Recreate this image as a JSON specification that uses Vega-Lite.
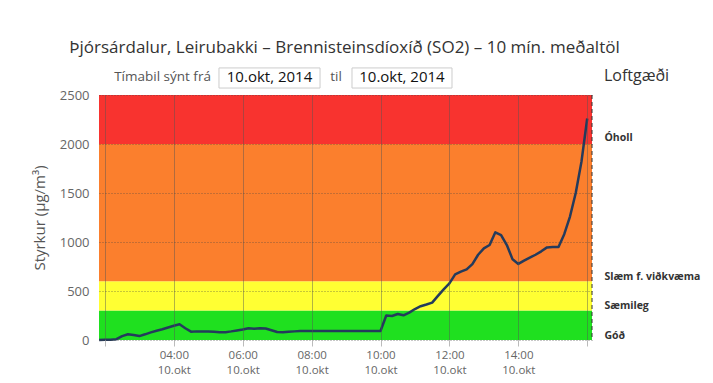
{
  "$schema": "https://vega.github.io/schema/vega-lite/v6.json",
  "width": 493,
  "height": 245,
  "autosize": "none",
  "padding": {"left": 99, "top": 95, "right": 121, "bottom": 43},
  "background": "white",
  "config": {"font": "Open Sans", "view": {"stroke": null}},
  "title": {
    "text": "Þjórsárdalur, Leirubakki – Brennisteinsdíoxíð (SO2) – 10 mín. meðaltöl",
    "anchor": "middle",
    "frame": "group",
    "fontSize": 17,
    "fontWeight": "normal",
    "color": "#333333",
    "dx": -1,
    "offset": 10
  },
  "datasets": {
    "bands": [
      {"level": "Góð", "lo": 0, "hi": 300},
      {"level": "Sæmileg", "lo": 300, "hi": 600},
      {"level": "Slæm f. viðkvæma", "lo": 600, "hi": 2000},
      {"level": "Óholl", "lo": 2000, "hi": 2500}
    ],
    "edge": [
      {"t": "2014-10-10T16:08:20Z"}
    ],
    "boxes": [
      {"t0": "2014-10-10T05:18:40Z", "t1": "2014-10-10T08:14:40Z", "y0": 2571, "y1": 2776},
      {"t0": "2014-10-10T09:10:20Z", "t1": "2014-10-10T12:04:30Z", "y0": 2571, "y1": 2776}
    ],
    "header": [
      {"t": "2014-10-10T03:40:20Z", "y": 2684, "label": "Tímabil sýnt frá", "kind": "label"},
      {"t": "2014-10-10T06:46:40Z", "y": 2684, "label": "10.okt, 2014", "kind": "box"},
      {"t": "2014-10-10T08:42:30Z", "y": 2684, "label": "til", "kind": "label"},
      {"t": "2014-10-10T10:37:20Z", "y": 2684, "label": "10.okt, 2014", "kind": "box"}
    ],
    "legendTitle": [
      {"t": "2014-10-10T17:25:50Z", "y": 2694, "label": "Loftgæði"}
    ],
    "so2": [
      {"t": "2014-10-10T01:50:00Z", "v": 0},
      {"t": "2014-10-10T02:00:00Z", "v": 2},
      {"t": "2014-10-10T02:10:00Z", "v": 3},
      {"t": "2014-10-10T02:20:00Z", "v": 8},
      {"t": "2014-10-10T02:30:00Z", "v": 40},
      {"t": "2014-10-10T02:40:00Z", "v": 58},
      {"t": "2014-10-10T02:50:00Z", "v": 50},
      {"t": "2014-10-10T03:00:00Z", "v": 40},
      {"t": "2014-10-10T03:10:00Z", "v": 58},
      {"t": "2014-10-10T03:20:00Z", "v": 78},
      {"t": "2014-10-10T03:30:00Z", "v": 95},
      {"t": "2014-10-10T03:40:00Z", "v": 110},
      {"t": "2014-10-10T03:50:00Z", "v": 128},
      {"t": "2014-10-10T04:00:00Z", "v": 145},
      {"t": "2014-10-10T04:10:00Z", "v": 160},
      {"t": "2014-10-10T04:20:00Z", "v": 120},
      {"t": "2014-10-10T04:30:00Z", "v": 85},
      {"t": "2014-10-10T04:40:00Z", "v": 88},
      {"t": "2014-10-10T04:50:00Z", "v": 88},
      {"t": "2014-10-10T05:00:00Z", "v": 86},
      {"t": "2014-10-10T05:10:00Z", "v": 85},
      {"t": "2014-10-10T05:20:00Z", "v": 80},
      {"t": "2014-10-10T05:30:00Z", "v": 80},
      {"t": "2014-10-10T05:40:00Z", "v": 88},
      {"t": "2014-10-10T05:50:00Z", "v": 98},
      {"t": "2014-10-10T06:00:00Z", "v": 108},
      {"t": "2014-10-10T06:10:00Z", "v": 120},
      {"t": "2014-10-10T06:20:00Z", "v": 115},
      {"t": "2014-10-10T06:30:00Z", "v": 120},
      {"t": "2014-10-10T06:40:00Z", "v": 118},
      {"t": "2014-10-10T06:50:00Z", "v": 100},
      {"t": "2014-10-10T07:00:00Z", "v": 82},
      {"t": "2014-10-10T07:10:00Z", "v": 78},
      {"t": "2014-10-10T07:20:00Z", "v": 85},
      {"t": "2014-10-10T07:30:00Z", "v": 88},
      {"t": "2014-10-10T07:40:00Z", "v": 92},
      {"t": "2014-10-10T08:00:00Z", "v": 92},
      {"t": "2014-10-10T08:30:00Z", "v": 92},
      {"t": "2014-10-10T09:00:00Z", "v": 92},
      {"t": "2014-10-10T09:30:00Z", "v": 92},
      {"t": "2014-10-10T10:00:00Z", "v": 92},
      {"t": "2014-10-10T10:10:00Z", "v": 250},
      {"t": "2014-10-10T10:20:00Z", "v": 245},
      {"t": "2014-10-10T10:30:00Z", "v": 265},
      {"t": "2014-10-10T10:40:00Z", "v": 252},
      {"t": "2014-10-10T10:50:00Z", "v": 279},
      {"t": "2014-10-10T11:00:00Z", "v": 316},
      {"t": "2014-10-10T11:10:00Z", "v": 345},
      {"t": "2014-10-10T11:20:00Z", "v": 362},
      {"t": "2014-10-10T11:30:00Z", "v": 381},
      {"t": "2014-10-10T11:40:00Z", "v": 450},
      {"t": "2014-10-10T11:50:00Z", "v": 517},
      {"t": "2014-10-10T12:00:00Z", "v": 578},
      {"t": "2014-10-10T12:10:00Z", "v": 670},
      {"t": "2014-10-10T12:20:00Z", "v": 697},
      {"t": "2014-10-10T12:30:00Z", "v": 720},
      {"t": "2014-10-10T12:40:00Z", "v": 775},
      {"t": "2014-10-10T12:50:00Z", "v": 870},
      {"t": "2014-10-10T13:00:00Z", "v": 935},
      {"t": "2014-10-10T13:10:00Z", "v": 969},
      {"t": "2014-10-10T13:20:00Z", "v": 1099},
      {"t": "2014-10-10T13:30:00Z", "v": 1071},
      {"t": "2014-10-10T13:40:00Z", "v": 969},
      {"t": "2014-10-10T13:50:00Z", "v": 823},
      {"t": "2014-10-10T14:00:00Z", "v": 776},
      {"t": "2014-10-10T14:10:00Z", "v": 810},
      {"t": "2014-10-10T14:20:00Z", "v": 840},
      {"t": "2014-10-10T14:30:00Z", "v": 870},
      {"t": "2014-10-10T14:40:00Z", "v": 905},
      {"t": "2014-10-10T14:50:00Z", "v": 945},
      {"t": "2014-10-10T15:00:00Z", "v": 948},
      {"t": "2014-10-10T15:10:00Z", "v": 950},
      {"t": "2014-10-10T15:20:00Z", "v": 1080},
      {"t": "2014-10-10T15:30:00Z", "v": 1260},
      {"t": "2014-10-10T15:40:00Z", "v": 1500},
      {"t": "2014-10-10T15:50:00Z", "v": 1820},
      {"t": "2014-10-10T16:00:00Z", "v": 2260}
    ]
  },
  "layer": [
    {
      "data": {"name": "bands"},
      "mark": {"type": "rect"},
      "encoding": {
        "y": {
          "field": "lo", "type": "quantitative",
          "scale": {"domain": [0, 2500], "nice": false, "zero": true},
          "axis": {
            "orient": "right",
            "title": null,
            "values": [50, 350, 650, 2070],
            "labelExpr": "datum.value == 50 ? 'Góð' : datum.value == 350 ? 'Sæmileg' : datum.value == 650 ? 'Slæm f. viðkvæma' : 'Óholl'",
            "labelFontWeight": "bold",
            "labelFontSize": 10.5,
            "labelColor": "#333333",
            "labelPadding": 12,
            "ticks": false,
            "domain": false,
            "grid": false
          }
        },
        "y2": {"field": "hi"},
        "color": {
          "field": "level", "type": "nominal",
          "scale": {"domain": ["Góð", "Sæmileg", "Slæm f. viðkvæma", "Óholl"], "range": ["#1fe01f", "#ffff33", "#fb7f2d", "#f8332f"]},
          "legend": null
        }
      }
    },
    {
      "data": {"name": "so2"},
      "mark": {"type": "line", "color": "#243b5c", "strokeWidth": 2.5, "strokeJoin": "round"},
      "encoding": {
        "x": {
          "field": "t", "type": "temporal", "title": null,
          "scale": {"type": "utc", "domain": [
            {"year": 2014, "month": 10, "date": 10, "hours": 1, "minutes": 49, "seconds": 42, "utc": true},
            {"year": 2014, "month": 10, "date": 10, "hours": 16, "minutes": 8, "seconds": 20, "utc": true}
          ]},
          "axis": {
            "zindex": 1,
            "values": [
              {"year": 2014, "month": 10, "date": 10, "hours": 2, "utc": true},
              {"year": 2014, "month": 10, "date": 10, "hours": 3, "utc": true},
              {"year": 2014, "month": 10, "date": 10, "hours": 4, "utc": true},
              {"year": 2014, "month": 10, "date": 10, "hours": 5, "utc": true},
              {"year": 2014, "month": 10, "date": 10, "hours": 6, "utc": true},
              {"year": 2014, "month": 10, "date": 10, "hours": 7, "utc": true},
              {"year": 2014, "month": 10, "date": 10, "hours": 8, "utc": true},
              {"year": 2014, "month": 10, "date": 10, "hours": 9, "utc": true},
              {"year": 2014, "month": 10, "date": 10, "hours": 10, "utc": true},
              {"year": 2014, "month": 10, "date": 10, "hours": 11, "utc": true},
              {"year": 2014, "month": 10, "date": 10, "hours": 12, "utc": true},
              {"year": 2014, "month": 10, "date": 10, "hours": 13, "utc": true},
              {"year": 2014, "month": 10, "date": 10, "hours": 14, "utc": true},
              {"year": 2014, "month": 10, "date": 10, "hours": 15, "utc": true},
              {"year": 2014, "month": 10, "date": 10, "hours": 16, "utc": true}
            ],
            "labelExpr": "(utchours(datum.value) % 2 == 0 && utchours(datum.value) > 2 && utchours(datum.value) < 16) ? [utcFormat(datum.value, '%H:%M'), '10.okt'] : ''",
            "labelColor": "#666666",
            "labelFontSize": 11.5,
            "labelLineHeight": 15.5,
            "labelPadding": 3,
            "labelFlush": false,
            "labelOverlap": false,
            "tickSize": 6,
            "tickColor": "#bbbbbb",
            "domain": false,
            "grid": true,
            "gridColor": "#555555",
            "gridOpacity": 0.45,
            "gridWidth": 1
          }
        },
        "y": {
          "field": "v", "type": "quantitative",
          "scale": {"domain": [0, 2500], "nice": false, "zero": true},
          "axis": {
            "zindex": 1,
            "title": "Styrkur (µg/m³)",
            "titleFontSize": 15,
            "titleFontWeight": "normal",
            "titleColor": "#555555",
            "titlePadding": 12,
            "values": [0, 500, 1000, 1500, 2000, 2500],
            "format": "d",
            "labelColor": "#666666",
            "labelFontSize": 13,
            "labelPadding": 10,
            "ticks": false,
            "domain": false,
            "grid": true,
            "gridDash": [1, 2],
            "gridColor": "#444444",
            "gridOpacity": 0.6
          }
        }
      }
    },
    {
      "data": {"name": "edge"},
      "mark": {"type": "rule", "color": "#333333", "strokeDash": [4, 3], "strokeWidth": 1},
      "encoding": {
        "x": {"field": "t", "type": "temporal", "title": null}
      }
    },
    {
      "data": {"name": "boxes"},
      "mark": {"type": "rect", "fill": "white", "stroke": "#cccccc", "strokeWidth": 1},
      "encoding": {
        "x": {"field": "t0", "type": "temporal", "title": null},
        "x2": {"field": "t1"},
        "y": {"field": "y0", "type": "quantitative", "axis": null, "scale": {"domain": [0, 2500], "nice": false}},
        "y2": {"field": "y1"}
      }
    },
    {
      "data": {"name": "header"},
      "mark": {"type": "text", "align": "center", "baseline": "middle"},
      "encoding": {
        "x": {"field": "t", "type": "temporal", "title": null},
        "y": {"field": "y", "type": "quantitative", "axis": null, "scale": {"domain": [0, 2500], "nice": false}},
        "text": {"field": "label"},
        "size": {"field": "kind", "type": "nominal", "scale": {"domain": ["label", "box"], "range": [13.5, 15]}, "legend": null},
        "color": {"field": "kind", "type": "nominal", "scale": {"domain": ["label", "box"], "range": ["#555555", "#111111"]}, "legend": null}
      }
    },
    {
      "data": {"name": "legendTitle"},
      "mark": {"type": "text", "align": "center", "baseline": "middle", "fontSize": 16, "color": "#333333"},
      "encoding": {
        "x": {"field": "t", "type": "temporal", "title": null},
        "y": {"field": "y", "type": "quantitative", "axis": null, "scale": {"domain": [0, 2500], "nice": false}},
        "text": {"field": "label"}
      }
    }
  ],
  "resolve": {"axis": {"y": "independent"}, "scale": {"color": "independent", "size": "independent"}}
}
